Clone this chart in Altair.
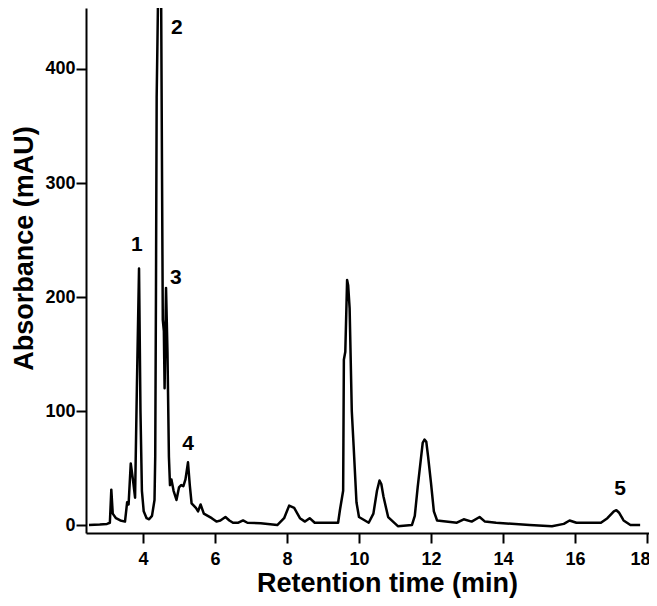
import altair as alt
import pandas as pd

# Chromatogram trace (retention time in min, absorbance in mAU)
time_min = [2.50, 2.80, 3.00, 3.08, 3.12, 3.16, 3.25, 3.37, 3.50, 3.56, 3.60, 3.66, 3.72, 3.78,
            3.83, 3.89, 3.93, 3.97, 4.02, 4.10, 4.17, 4.25, 4.32, 4.34, 4.36, 4.38, 4.40, 4.43,
            4.50, 4.53, 4.55, 4.58, 4.60, 4.64, 4.68, 4.72, 4.75, 4.79, 4.85, 4.93, 5.00, 5.06,
            5.12, 5.18, 5.25, 5.30, 5.35, 5.47, 5.53, 5.60, 5.69, 5.80, 5.91, 6.04, 6.15, 6.29,
            6.40, 6.50, 6.65, 6.78, 6.90, 7.27, 7.73, 7.92, 8.06, 8.20, 8.36, 8.50, 8.63, 8.77,
            9.42, 9.47, 9.56, 9.58, 9.62, 9.67, 9.70, 9.74, 9.80, 9.85, 9.93, 10.00, 10.27, 10.40,
            10.50, 10.57, 10.62, 10.68, 10.81, 11.08, 11.47, 11.55, 11.63, 11.77, 11.82, 11.87,
            11.92, 12.00, 12.08, 12.17, 12.72, 12.91, 13.13, 13.35, 13.50, 13.81, 14.74, 15.36,
            15.69, 15.85, 16.04, 16.72, 16.90, 17.08, 17.15, 17.22, 17.35, 17.54, 17.81]
absorbance = [0, 0.5, 1, 2, 31, 10, 6, 4, 3, 20, 18, 54, 40, 24,
              120, 225, 100, 30, 12, 6, 5, 8, 22, 60, 200, 375, 420, 490,
              490, 300, 180, 170, 120, 208, 152, 60, 35, 40, 30, 22, 33, 35,
              34, 40, 55, 35, 19, 15, 12, 18, 10, 8, 6, 3, 4, 7,
              4, 2, 2, 4, 2, 1.5, 0, 6, 17, 15, 6, 3, 6, 2,
              2, 13, 30, 145, 152, 215, 210, 190, 100, 70, 20, 7, 2, 10,
              30, 39, 36, 25, 7, -1, 0, 8, 33, 72, 75, 73,
              60, 37, 12, 4, 2, 5, 3, 7, 3, 2, 0, -1,
              1, 4, 2, 2, 6, 12, 13, 11, 4, 0, 0]

peak_labels = ["1", "2", "3", "4", "5"]
label_time = [3.83, 4.94, 4.91, 5.25, 17.25]
label_abs = [246, 436, 217, 71, 32]

x_ticks = [4, 6, 8, 10, 12, 14, 16, 18]
y_ticks = [0, 100, 200, 300, 400]

trace = pd.DataFrame({"t": time_min, "a": absorbance})
labels = pd.DataFrame({"label": peak_labels, "t": label_time, "a": label_abs})

FONT = "Liberation Sans"

x_enc = alt.X(
    "t:Q",
    scale=alt.Scale(domain=[2.417, 18.056], nice=False, zero=False),
    axis=alt.Axis(values=x_ticks, title="Retention time (min)", grid=False,
                  tickSize=10, tickWidth=2, domainWidth=2, labelPadding=7,
                  labelFlush=6, labelFlushOffset=3, titlePadding=2,
                  titleFontSize=27, titleX=301),
)
y_enc = alt.Y(
    "a:Q",
    scale=alt.Scale(domain=[-7, 453.5], nice=False, zero=False),
    axis=alt.Axis(values=y_ticks, title="Absorbance (mAU)", grid=False,
                  tickSize=10, tickWidth=2, domainWidth=2, labelPadding=1,
                  titlePadding=6, titleFontSize=27, titleY=240),
)

line = alt.Chart(trace).mark_line(color="black", strokeWidth=2.5, clip=True,
                                  strokeJoin="round").encode(x=x_enc, y=y_enc)

text = alt.Chart(labels).mark_text(font=FONT, fontWeight="bold", fontSize=21,
                                   color="black", align="center",
                                   baseline="middle").encode(
    x=alt.X("t:Q"), y=alt.Y("a:Q"), text="label:N")

chart = alt.layer(line, text).properties(
    width=563, height=525, autosize="none",
    padding={"left": 78, "top": 0, "right": 0, "bottom": 65},
).configure_view(stroke=None).configure_axis(
    domainColor="black", tickColor="black", labelColor="black", titleColor="black",
    labelFont=FONT, titleFont=FONT, labelFontWeight="bold", titleFontWeight="bold",
    labelFontSize=18,
)

chart.save("out.html", embed_options={"renderer": "svg", "actions": False})
